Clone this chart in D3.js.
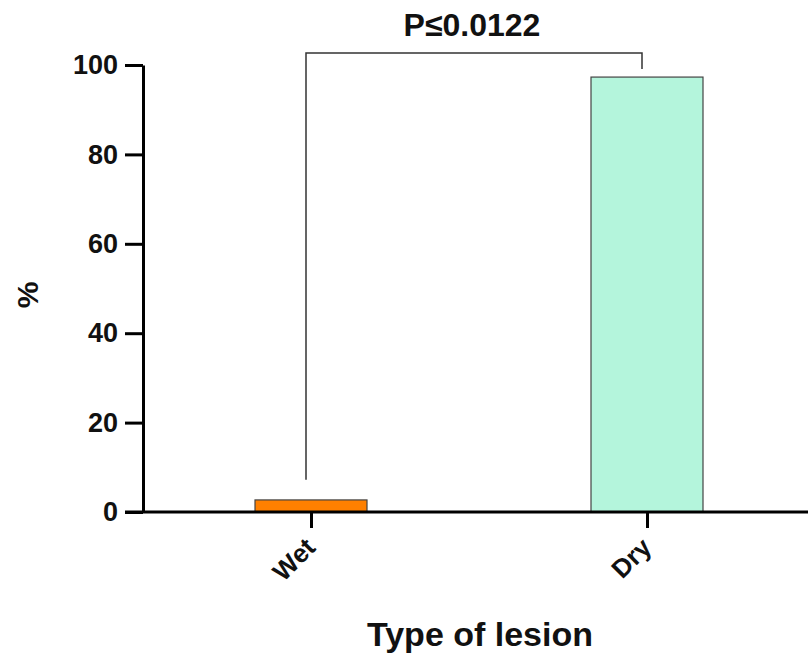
<!DOCTYPE html>
<html>
<head>
<meta charset="utf-8">
<script src="https://cdn.jsdelivr.net/npm/d3@7"></script>
<style>
  html, body { margin: 0; padding: 0; background: #fff; }
  svg { display: block; }
  text { font-family: Arial, "Liberation Sans", sans-serif; font-weight: bold; fill: #111; }
</style>
</head>
<body>
<svg id="chart" width="808" height="662"></svg>
<script>
// Share of lesions by type (%)
const categories = ["Wet", "Dry"];
const values = [2.7, 97.3];
const barColors = ["#ff8000", "#b4f5dc"];
const yTicks = [0, 20, 40, 60, 80, 100];

// Significance bracket: label, top level and the two leg ends (in % units)
const pLabel = "P\u22640.0122";
const bracketTop = 102.7;
const bracketLegEnds = [7.2, 99.1];

const svg = d3.select("#chart");
const plotLeft = 143, plotBottom = 512, plotTop = 65;

const y = d3.scaleLinear().domain([0, 100]).range([plotBottom, plotTop]);
const x = d3.scalePoint().domain(categories).range([plotLeft, 815]).padding(0.5);
const barWidth = 112;

// Bars
svg.append("g").selectAll("rect")
  .data(categories)
  .join("rect")
  .attr("x", d => x(d) - barWidth / 2)
  .attr("y", (d, i) => y(values[i]))
  .attr("width", barWidth)
  .attr("height", (d, i) => y(0) - y(values[i]))
  .attr("fill", (d, i) => barColors[i])
  .attr("stroke", "#444")
  .attr("stroke-width", 1.2);

// Y axis
const yAxis = svg.append("g")
  .attr("transform", `translate(${plotLeft},0)`)
  .call(d3.axisLeft(y).tickValues(yTicks).tickSize(18).tickSizeOuter(0).tickPadding(7));
yAxis.select(".domain").attr("stroke", "#000").attr("stroke-width", 3);
yAxis.selectAll(".tick line").attr("stroke", "#000").attr("stroke-width", 3);
yAxis.selectAll(".tick text")
  .attr("font-size", 27).attr("fill", "#111")
  .attr("font-family", "Arial, 'Liberation Sans', sans-serif")
  .attr("font-weight", "bold");

// X axis
const xAxis = svg.append("g")
  .attr("transform", `translate(0,${plotBottom})`)
  .call(d3.axisBottom(x).tickSize(16).tickSizeOuter(0).tickFormat(""));
xAxis.select(".domain").attr("stroke", "#000").attr("stroke-width", 3)
  .attr("d", `M${plotLeft - 18},0H808`);
xAxis.selectAll(".tick line").attr("stroke", "#000").attr("stroke-width", 3);

// Rotated category labels
svg.append("g").selectAll("text")
  .data(categories)
  .join("text")
  .attr("transform", d => `translate(${x(d) + 6},${plotBottom + 37}) rotate(-45)`)
  .attr("text-anchor", "end")
  .attr("font-size", 26)
  .text(d => d);

// Axis titles
svg.append("text")
  .attr("transform", `translate(38,295) rotate(-90)`)
  .attr("text-anchor", "middle")
  .attr("font-size", 30)
  .text("%");

svg.append("text")
  .attr("x", 480).attr("y", 646)
  .attr("text-anchor", "middle")
  .attr("font-size", 34)
  .text("Type of lesion");

// Significance bracket
const bx = categories.map(d => x(d) - 5);
svg.append("path")
  .attr("fill", "none")
  .attr("stroke", "#333")
  .attr("stroke-width", 1.5)
  .attr("d", d3.line()([
    [bx[0], y(bracketLegEnds[0])],
    [bx[0], y(bracketTop)],
    [bx[1], y(bracketTop)],
    [bx[1], y(bracketLegEnds[1])]
  ]));

svg.append("text")
  .attr("x", (bx[0] + bx[1]) / 2 - 2).attr("y", 36)
  .attr("text-anchor", "middle")
  .attr("font-size", 32)
  .text(pLabel);
</script>
</body>
</html>
